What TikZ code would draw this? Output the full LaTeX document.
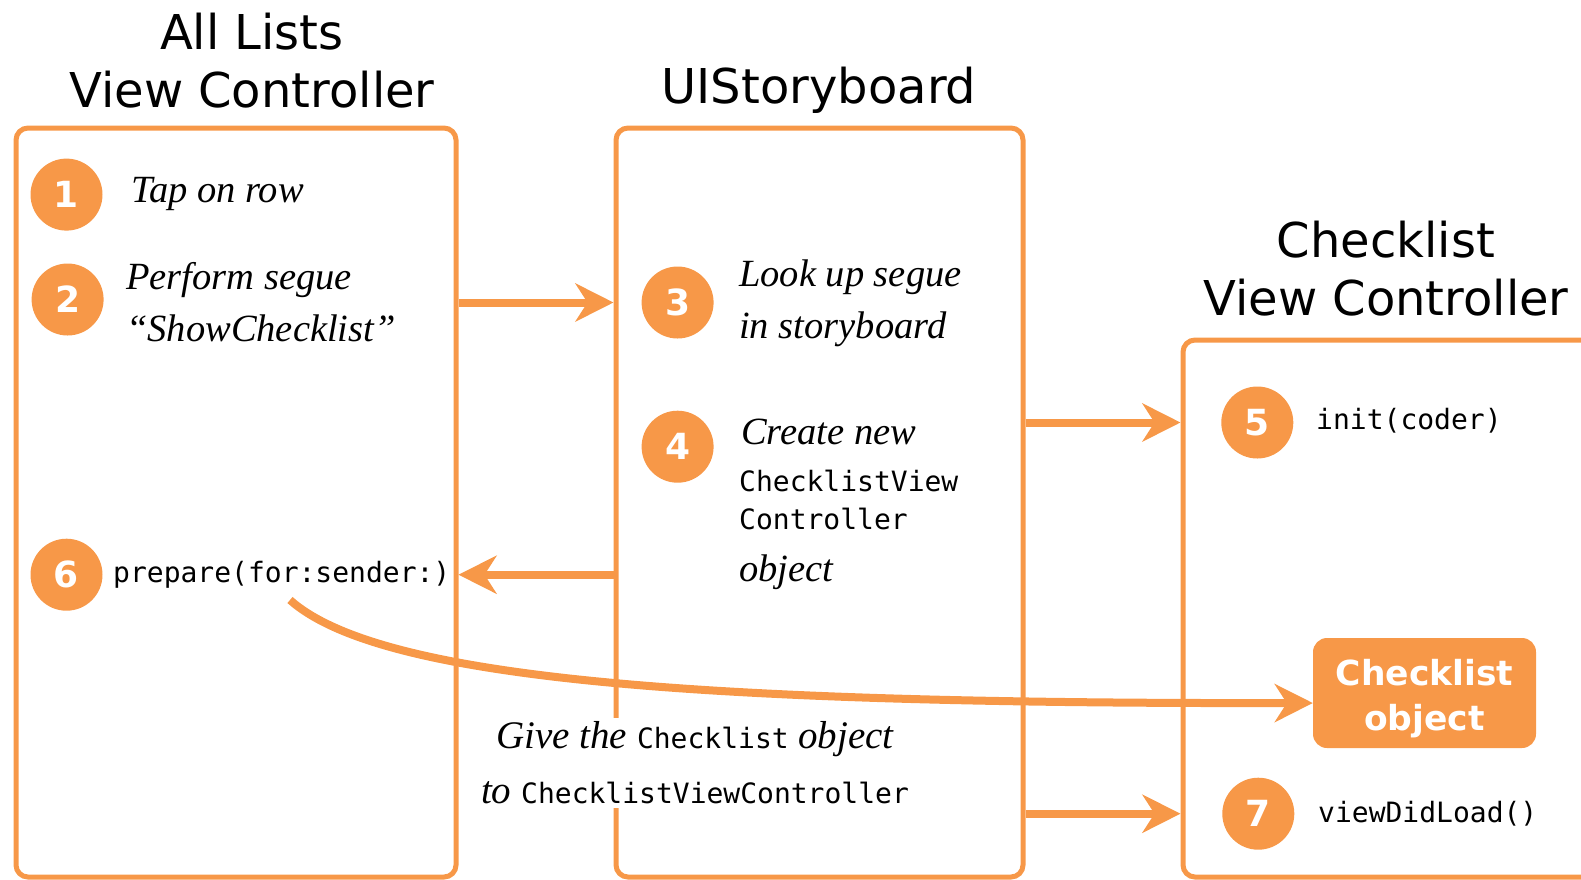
\documentclass[tikz,border=0pt]{standalone}
\usepackage{fontspec}
\setmainfont{Liberation Serif}
\setsansfont{DejaVu Sans}
\setmonofont{DejaVu Sans Mono}
\usetikzlibrary{arrows.meta,positioning}
\definecolor{segueorange}{RGB}{247,152,72}

\begin{document}
\begin{tikzpicture}[x=1pt,y=-1pt,
  panel/.style={draw=segueorange,line width=5pt,rounded corners=12pt,inner sep=0pt},
  heading/.style={font=\sffamily\fontsize{48}{58}\selectfont,align=center},
  stepnum/.style={circle,fill=segueorange,minimum size=72pt,inner sep=0pt,text=white,font=\sffamily\bfseries\fontsize{36}{40}\selectfont},
  prose/.style={anchor=west,font=\itshape\fontsize{38.5}{52}\selectfont,align=left,inner sep=0pt},
  code/.style={anchor=west,font=\ttfamily\fontsize{28}{32}\selectfont,inner sep=0pt},
  flow/.style={draw=segueorange,line width=8pt,-{Stealth[length=38pt,width=38pt,inset=12pt]}}]
\useasboundingbox (0,0) rectangle (1581,879);
\clip (0,0) rectangle (1581,879);

\node[heading] (allTitle) at (252,61) {All Lists\\View Controller};
\node[heading] (storyTitle) at (819,90) {UIStoryboard};
\node[heading] (checkTitle) at (1386,269) {Checklist\\View Controller};

\node[panel,minimum width=440pt,minimum height=749pt] (allBox) at (236,502.5) {};
\node[panel,minimum width=407pt,minimum height=749pt] (storyBox) at (819.5,502.5) {};
\node[panel,minimum width=457pt,minimum height=537pt] (checkBox) at (1411.5,608.5) {};

\node[stepnum] (s1) at (66.5,194.6) {1};
\node[stepnum] (s2) at (67.6,299.5) {2};
\node[stepnum] (s3) at (677.6,302.5) {3};
\node[stepnum] (s4) at (677.6,446.7) {4};
\node[stepnum] (s5) at (1257.3,422.5) {5};
\node[stepnum] (s6) at (66.5,574.7) {6};
\node[stepnum] (s7) at (1258.3,813.7) {7};

\node[prose] (tap) at (131,194) {Tap on row};
\node[prose] (perform) at (126,302) {Perform segue\\“ShowChecklist”};
\node[prose] (lookup) at (739,303) {Look up segue\\in storyboard};
\node[prose] (create) at (741,432) {Create new};
\node[code] (cvc) at (739,481) {ChecklistView};
\node[code] (ctrl) at (739,519) {Controller};
\node[prose] (obj) at (739,572) {object};
\node[code] (init) at (1316,421) {init(coder)};
\node[code] (prep) at (113,575) {prepare(for:sender:)};
\node[code] (vdl) at (1318,814) {viewDidLoad()};

\node[fill=segueorange,rounded corners=14pt,minimum width=223pt,minimum height=110pt,inner sep=0pt] (checkObj) at (1424.5,693) {};
\node[text=white,font=\sffamily\bfseries\fontsize{34.5}{45}\selectfont,align=center,inner sep=0pt] (checkObjText) at ([yshift=-6pt]checkObj.center) {Checklist\\object};

\node[fill=white,align=center,inner sep=4pt,font=\fontsize{39}{55}\selectfont] (give) at (695,763)
  {{\itshape Give the} {\ttfamily\fontsize{28}{55}\selectfont Checklist} {\itshape object}\\{\itshape to} {\ttfamily\fontsize{28}{55}\selectfont ChecklistViewController}};

\draw[flow] (allBox.east |- s3) -- (storyBox.west |- s3);
\draw[flow] (storyBox.east |- s5) -- (checkBox.west |- s5);
\draw[flow] (storyBox.west |- s6) -- (allBox.east |- s6);
\draw[flow] (storyBox.east |- s7) -- (checkBox.west |- s7);

\coordinate (sendFrom) at (290,600);
\draw[flow] (sendFrom) .. controls (380,680) and (700,704) .. ([yshift=-10pt]checkObj.west);
\end{tikzpicture}
\end{document}
